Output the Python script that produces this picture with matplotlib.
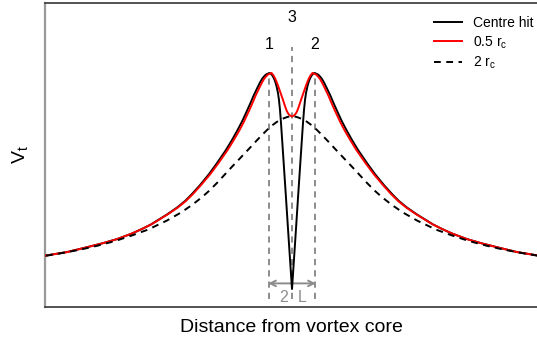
import matplotlib
matplotlib.use("Agg")
import matplotlib.pyplot as plt

plt.rcParams['font.family'] = ['Liberation Sans', 'DejaVu Sans']
plt.rcParams['mathtext.fontset'] = 'custom'
plt.rcParams['mathtext.rm'] = 'Liberation Sans'
plt.rcParams['mathtext.it'] = 'Liberation Sans:italic'

# ---- data (distance in units of L, velocity normalised to peak) ----
centre_x = [-10.837, -9.912, -9.163, -8.370, -7.709, -7.048, -6.608, -6.211, -5.859, -5.507,
            -5.066, -4.714, -4.405, -4.053, -3.656, -3.304, -2.907, -2.643, -2.423, -2.203,
            -2.026, -1.850, -1.696, -1.542, -1.410, -1.322, -1.233, -1.145, -1.0, -0.947,
            -0.881, -0.815, -0.749, -0.683, -0.617, -0.573, -0.529, -0.485, -0.396, -0.264,
            -0.132, 0.0,
            0.132, 0.264, 0.396, 0.485, 0.529, 0.573, 0.617, 0.683, 0.749, 0.815,
            0.881, 0.947, 1.0, 1.145, 1.233, 1.322, 1.410, 1.542, 1.696, 1.850,
            2.026, 2.203, 2.423, 2.643, 2.907, 3.304, 3.656, 4.053, 4.405, 4.714,
            5.066, 5.507, 5.859, 6.211, 6.608, 7.048, 7.709, 8.370, 9.163, 9.912, 10.837]
centre_v = [0.155, 0.171, 0.190, 0.211, 0.231, 0.257, 0.278, 0.299, 0.322, 0.345,
            0.377, 0.407, 0.440, 0.481, 0.532, 0.583, 0.644, 0.690, 0.731, 0.775,
            0.815, 0.856, 0.894, 0.928, 0.956, 0.972, 0.984, 0.993, 1.0, 0.998,
            0.991, 0.979, 0.963, 0.940, 0.907, 0.875, 0.829, 0.769, 0.630, 0.421,
            0.208, 0.0,
            0.208, 0.421, 0.630, 0.769, 0.829, 0.875, 0.907, 0.940, 0.963, 0.979,
            0.991, 0.998, 1.0, 0.993, 0.984, 0.972, 0.956, 0.928, 0.894, 0.856,
            0.815, 0.775, 0.731, 0.690, 0.644, 0.583, 0.532, 0.481, 0.440, 0.407,
            0.377, 0.345, 0.322, 0.299, 0.278, 0.257, 0.231, 0.211, 0.190, 0.171, 0.155]

half_x = [-10.837, -9.912, -9.163, -8.370, -7.709, -7.048, -6.608, -6.198, -5.841, -5.485,
          -5.035, -4.678, -4.361, -4.009, -3.599, -3.238, -2.833, -2.564, -2.335, -2.115,
          -1.938, -1.762, -1.608, -1.454, -1.322, -1.233, -1.145, -1.057, -0.903, -0.815,
          -0.749, -0.683, -0.617, -0.551, -0.485, -0.419, -0.352, -0.286, -0.220, -0.154,
          -0.088, 0.0,
          0.088, 0.154, 0.220, 0.286, 0.352, 0.419, 0.485, 0.551, 0.617, 0.683,
          0.749, 0.815, 0.903, 1.057, 1.145, 1.233, 1.322, 1.454, 1.608, 1.762,
          1.938, 2.115, 2.335, 2.564, 2.833, 3.238, 3.599, 4.009, 4.361, 4.678,
          5.035, 5.485, 5.841, 6.198, 6.608, 7.048, 7.709, 8.370, 9.163, 9.912, 10.837]
half_v = [0.155, 0.171, 0.190, 0.211, 0.231, 0.257, 0.278, 0.299, 0.322, 0.345,
          0.377, 0.407, 0.440, 0.481, 0.532, 0.583, 0.644, 0.690, 0.731, 0.775,
          0.815, 0.856, 0.894, 0.928, 0.956, 0.972, 0.984, 0.993, 1.0, 0.989,
          0.976, 0.960, 0.942, 0.922, 0.902, 0.882, 0.861, 0.840, 0.822, 0.810,
          0.803, 0.799,
          0.803, 0.810, 0.822, 0.840, 0.861, 0.882, 0.902, 0.922, 0.942, 0.960,
          0.976, 0.989, 1.0, 0.993, 0.984, 0.972, 0.956, 0.928, 0.894, 0.856,
          0.815, 0.775, 0.731, 0.690, 0.644, 0.583, 0.532, 0.481, 0.440, 0.407,
          0.377, 0.345, 0.322, 0.299, 0.278, 0.257, 0.231, 0.211, 0.190, 0.171, 0.155]

two_x = [-10.837, -10.044, -9.295, -8.590, -7.797, -7.048, -6.344, -5.507, -4.890, -4.405,
         -3.965, -3.656, -3.304, -2.952, -2.643, -2.291, -1.850, -1.586, -1.322, -1.101,
         -0.881, -0.661, -0.441, -0.220, 0.0,
         0.220, 0.441, 0.661, 0.881, 1.101, 1.322, 1.586, 1.850, 2.291, 2.643,
         2.952, 3.304, 3.656, 3.965, 4.405, 4.890, 5.507, 6.344, 7.048, 7.797,
         8.590, 9.295, 10.044, 10.837]
two_v = [0.154, 0.168, 0.183, 0.200, 0.222, 0.248, 0.275, 0.317, 0.354, 0.389,
         0.425, 0.454, 0.491, 0.531, 0.566, 0.605, 0.654, 0.684, 0.713, 0.736,
         0.757, 0.774, 0.787, 0.796, 0.801,
         0.796, 0.787, 0.774, 0.757, 0.736, 0.713, 0.684, 0.654, 0.605, 0.566,
         0.531, 0.491, 0.454, 0.425, 0.389, 0.354, 0.317, 0.275, 0.248, 0.222,
         0.200, 0.183, 0.168, 0.154]

series_labels = ['Centre hit', r'0.5 r$_{\mathrm{c}}$', r'2 r$_{\mathrm{c}}$']
marker_labels = ['1', '2', '3']

# ---- figure ----
fig = plt.figure(figsize=(5.37, 3.44), dpi=100)
ax = fig.add_axes([45/537, 37/344, 1 - 45/537, 304/344])
ax.set_xlim(-10.881, 10.793)
ax.set_ylim(-0.0833, 1.324)

gray = '#8c8c8c'
for xv, top in [(-1, 1.0), (1, 1.0), (0, 1.12)]:
    ax.plot([xv, xv], [-0.045, top], color=gray, lw=1.4, ls=(0, (3.2, 2.6)), zorder=1)

l1, = ax.plot(centre_x, centre_v, color='black', lw=1.4, zorder=3, label=series_labels[0])
l2, = ax.plot(half_x, half_v, color='#ff0000', lw=1.4, zorder=4, label=series_labels[1])
l3, = ax.plot(two_x, two_v, color='black', lw=1.4, ls=(0, (3.5, 2.8)), zorder=5, label=series_labels[2])

ax.text(-1, 1.130, marker_labels[0], ha='center', va='center', fontsize=11.5)
ax.text(1, 1.130, marker_labels[1], ha='center', va='center', fontsize=11.5)
ax.text(0, 1.259, marker_labels[2], ha='center', va='center', fontsize=11.5)

ax.annotate('', xy=(-1.05, 0.026), xytext=(1.05, 0.026),
            arrowprops=dict(arrowstyle='<->', color=gray, lw=1.4, mutation_scale=10,
                            shrinkA=0, shrinkB=0), zorder=2)
ax.text(-0.35, -0.038, '2', ha='center', va='center', fontsize=11.5, color=gray)
ax.text(0.45, -0.038, 'L', ha='center', va='center', fontsize=11.5, color=gray)

ax.set_xticks([])
ax.set_yticks([])
ax.spines['right'].set_visible(False)
ax.spines['left'].set_color('#999999')
ax.spines['left'].set_linewidth(1.6)
ax.spines['bottom'].set_color('#444444')
ax.spines['bottom'].set_linewidth(1.3)
ax.spines['top'].set_color('#444444')
ax.spines['top'].set_linewidth(1.3)

fig.text(0.5 * (45 + 537) / 537, 16/344, 'Distance from vortex core', ha='center', va='center', fontsize=14)
fig.text(20/537, 1 - 155/344, r'V$_{\mathrm{t}}$', ha='center', va='center', fontsize=14, rotation=90)

leg = fig.legend(handles=[l1, l2, l3], loc='upper left', bbox_to_anchor=(434/537, 1 - 16/344),
                 frameon=False, fontsize=10, handlelength=2.0, handletextpad=0.8,
                 labelspacing=0.3, borderpad=0, borderaxespad=0)

fig.savefig('out.png', dpi=100)
